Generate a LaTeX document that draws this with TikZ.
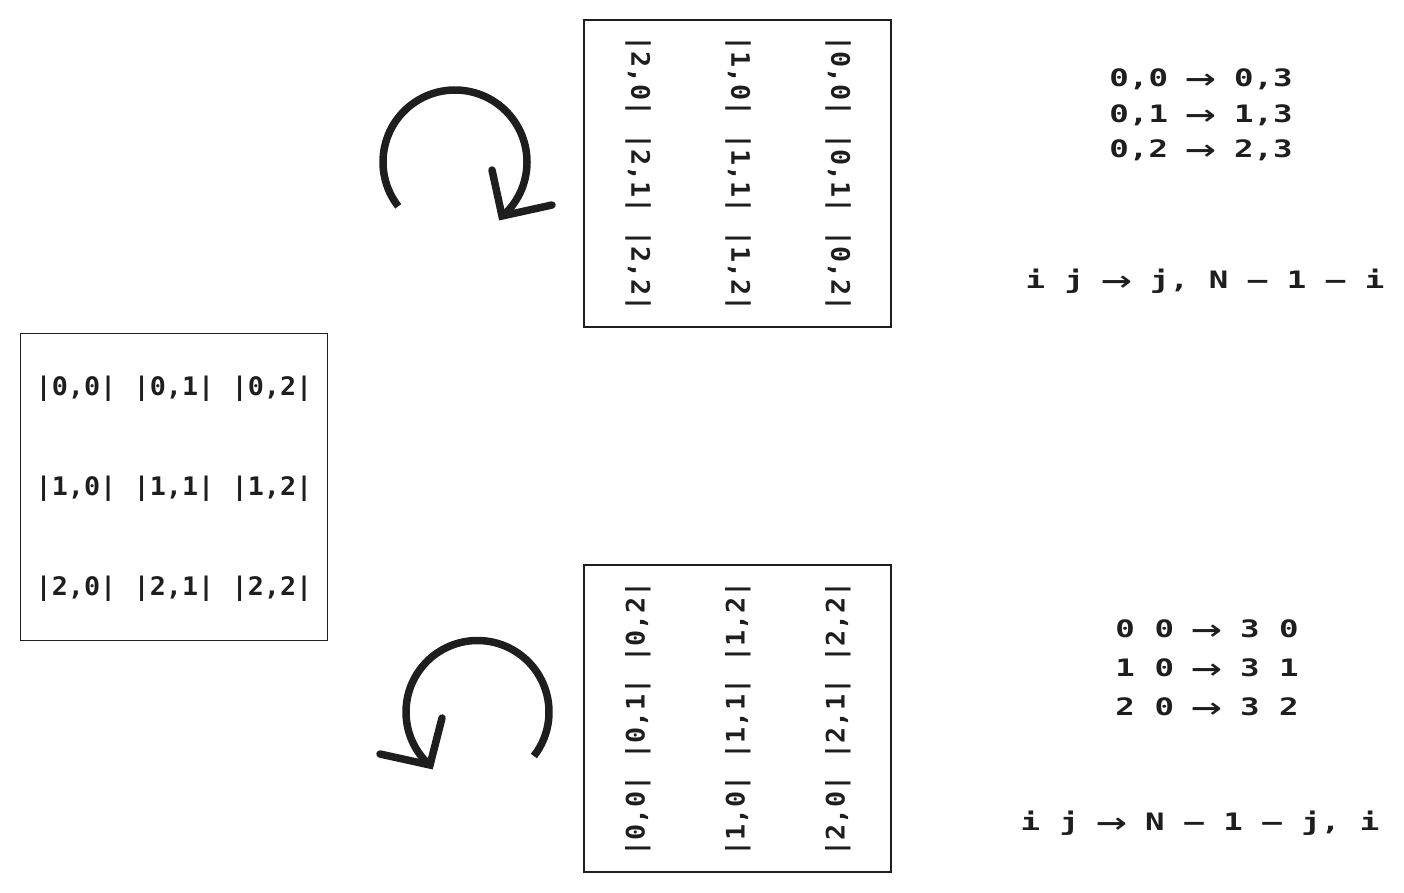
\documentclass[tikz,border=0pt]{standalone}
\usepackage{fontspec}
\usepackage{tikz}
\usetikzlibrary{positioning}
\newfontfamily\cellfont[FakeStretch=1.05]{DejaVu Sans Mono}
\newfontfamily\mapfont[FakeStretch=1.35]{DejaVu Sans Mono}
\definecolor{ink}{HTML}{1E1E1E}
\newcommand\goesto{\makebox[27pt]{\smash{\raisebox{-4pt}{\mdseries\fontsize{38}{30}\selectfont →}}}}

\begin{document}
\begin{tikzpicture}[
		x=1pt, y=-1pt,
		matbox/.style={draw=ink, line width=1.6pt, minimum width=307pt,
			minimum height=307pt, inner sep=0pt},
		cell/.style={text=ink, inner sep=0pt,
			font=\cellfont\bfseries\fontsize{25.5}{30}\selectfont},
		maptext/.style={text=ink, inner sep=0pt, anchor=base,
			font=\mapfont\bfseries\fontsize{24}{30}\selectfont},
		rotarc/.style={draw=ink, line width=7.5pt},
		barb/.style={draw=ink, line width=7.5pt, line cap=round},
	]
		\useasboundingbox (0,0) rectangle (1404,892);

		% Original matrix
		\node[matbox] (orig) at (174,487) {};
		\foreach \i in {0,1,2}
			\foreach \j in {0,1,2}
				\node[cell] (o\i\j) at ({76+98*\j},{389+100*\i}) {|\i,\j|};

		% Rotated clockwise
		\node[matbox] (cw) at (737.5,173.5) {};
		\foreach \i in {0,1,2}
			\foreach \j in {0,1,2}
				\node[cell, rotate=-90] (c\i\j) at ({838-100*\i},{76+97.5*\j}) {|\i,\j|};

		% Rotated counter-clockwise
		\node[matbox] (ccw) at (737.5,718.5) {};
		\foreach \i in {0,1,2}
			\foreach \j in {0,1,2}
				\node[cell, rotate=90] (a\i\j) at ({638+100*\i},{816-97*\j}) {|\i,\j|};

		% Rotation arrows
		\draw[rotarc] (455,162) ++(142:72) arc[start angle=142, end angle=409, radius=72];
		\draw[barb] (492,170) -- (502,216) -- (552,205);
		\draw[rotarc] (477.5,712) ++(38:71.5) arc[start angle=38, end angle=-228, radius=71.5];
		\draw[barb] (442,718) -- (430,765) -- (380,754);

		% Index rules, clockwise
		\node[maptext] (cw1) at (1201,86) {0,0 \goesto{} 0,3};
		\node[maptext] (cw2) at (1201,122) {0,1 \goesto{} 1,3};
		\node[maptext] (cw3) at (1201,157) {0,2 \goesto{} 2,3};
		\node[maptext] (cwrule) at (1205,288) {i j \goesto{} j, N – 1 – i};

		% Index rules, counter-clockwise
		\node[maptext] (ccw1) at (1207,637) {0 0 \goesto{} 3 0};
		\node[maptext] (ccw2) at (1207,676) {1 0 \goesto{} 3 1};
		\node[maptext] (ccw3) at (1207,715) {2 0 \goesto{} 3 2};
		\node[maptext] (ccwrule) at (1200,830) {i j \goesto{} N – 1 – j, i};
	\end{tikzpicture}
\end{document}
